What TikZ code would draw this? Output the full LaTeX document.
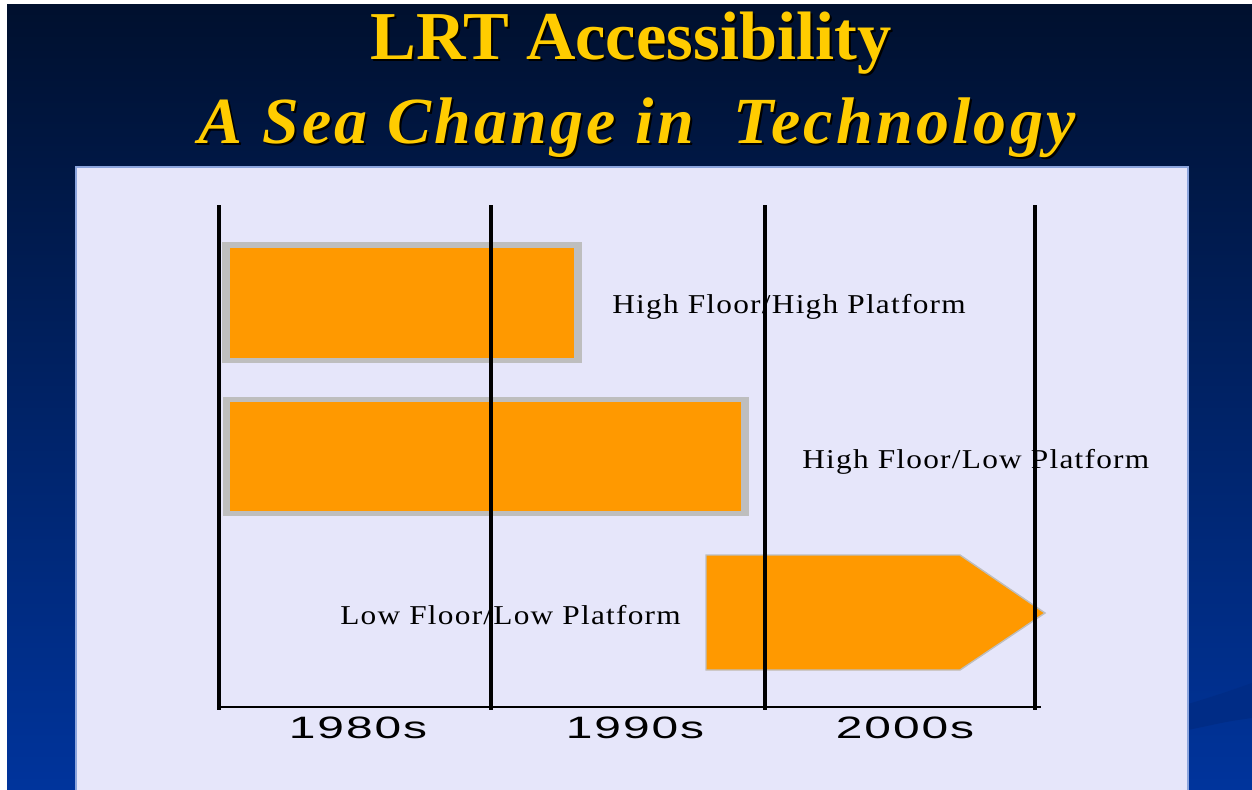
\documentclass[tikz,border=0pt]{standalone}
\usepackage{fontspec}
\setmainfont{Liberation Serif}
\newfontfamily\titlefont{Liberation Serif}
\newfontfamily\subtitlefont[LetterSpace=5]{Liberation Serif}
\newfontfamily\rowfont[LetterSpace=4]{Liberation Serif}
\newfontfamily\decadefont[LetterSpace=4]{Liberation Sans}

\definecolor{slideTop}{HTML}{00102E}
\definecolor{slideMid}{HTML}{002470}
\definecolor{slideBottom}{HTML}{00349C}
\definecolor{slideSwoosh}{HTML}{002C86}
\definecolor{panelFill}{HTML}{E6E6FA}
\definecolor{panelEdge}{HTML}{8CA5DD}
\definecolor{titleGold}{HTML}{FFCC00}
\definecolor{barOrange}{HTML}{FF9900}
\definecolor{barGrey}{HTML}{BEBEBE}

\begin{document}
\begin{tikzpicture}[x=0.02cm, y=-0.02cm,
		titletext/.style={anchor=base, inner sep=0pt, titleGold},
		rowlabel/.style={anchor=base west, inner sep=0pt, font=\rowfont\fontsize{15.5}{17}\selectfont},
		decade/.style={anchor=base, inner sep=0pt, font=\decadefont\fontsize{17.6}{19}\selectfont},
		barback/.style={fill=barGrey},
		barfront/.style={fill=barOrange},
		decadeline/.style={line width=1.9pt}]
		\useasboundingbox (0,0) rectangle (1252,789);
		% slide background, white strip on the left and top
		\fill[white] (0,0) rectangle (1252,789);
		\shade[top color=slideTop, middle color=slideMid, bottom color=slideBottom] (7,4) rectangle (1252,789);
		\fill[slideSwoosh] (1188,704) .. controls (1215,696) and (1235,689) .. (1252,683) -- (1252,718) .. controls (1230,721) .. (1188,730) -- cycle;
		% title, with its dark shadow
		\node[titletext, black] (titleshade) at (633,61) {\titlefont\bfseries\fontsize{39}{42}\selectfont LRT Accessibility};
		\node[titletext] (title) at (631,59) {\titlefont\bfseries\fontsize{39}{42}\selectfont LRT Accessibility};
		\node[titletext, black] (subtitleshade) at (639,145) {\subtitlefont\bfseries\itshape\fontsize{37.5}{40}\selectfont A Sea Change in\ \ Technology};
		\node[titletext] (subtitle) at (637,143) {\subtitlefont\bfseries\itshape\fontsize{37.5}{40}\selectfont A Sea Change in\ \ Technology};
		% chart panel
		\draw[panelEdge, fill=panelFill, line width=0.6pt] (76,167) rectangle (1188,795);
		% bars: grey edge under the orange face
		\fill[barback] (222,242) rectangle (582,363);
		\fill[barfront] (230,248) rectangle (574,358);
		\fill[barback] (223,397) rectangle (749,516);
		\fill[barfront] (230,402) rectangle (741,511);
		\draw[barGrey, fill=barOrange, line width=0.8pt] (706,555) -- (960,555) -- (1045,613) -- (960,670) -- (706,670) -- cycle;
		% row labels
		\node[rowlabel] (highhigh) at (612,313) {\scalebox{1.15}[1]{High Floor/High Platform}};
		\node[rowlabel] (highlow) at (802,468) {\scalebox{1.15}[1]{High Floor/Low Platform}};
		\node[rowlabel] (lowlow) at (340,624) {\scalebox{1.15}[1]{Low Floor/Low Platform}};
		% decade lines and base line
		\foreach \x in {219,491,765,1035}
			\draw[decadeline] (\x,205) -- (\x,710);
		\draw[line width=1.2pt] (217,707) -- (1041,707);
		\foreach \x/\lab in {358/1980s, 635/1990s, 905/2000s}
			\node[decade] (dec\lab) at (\x,738) {\scalebox{1.55}[1]{\lab}};
\end{tikzpicture}
\end{document}
